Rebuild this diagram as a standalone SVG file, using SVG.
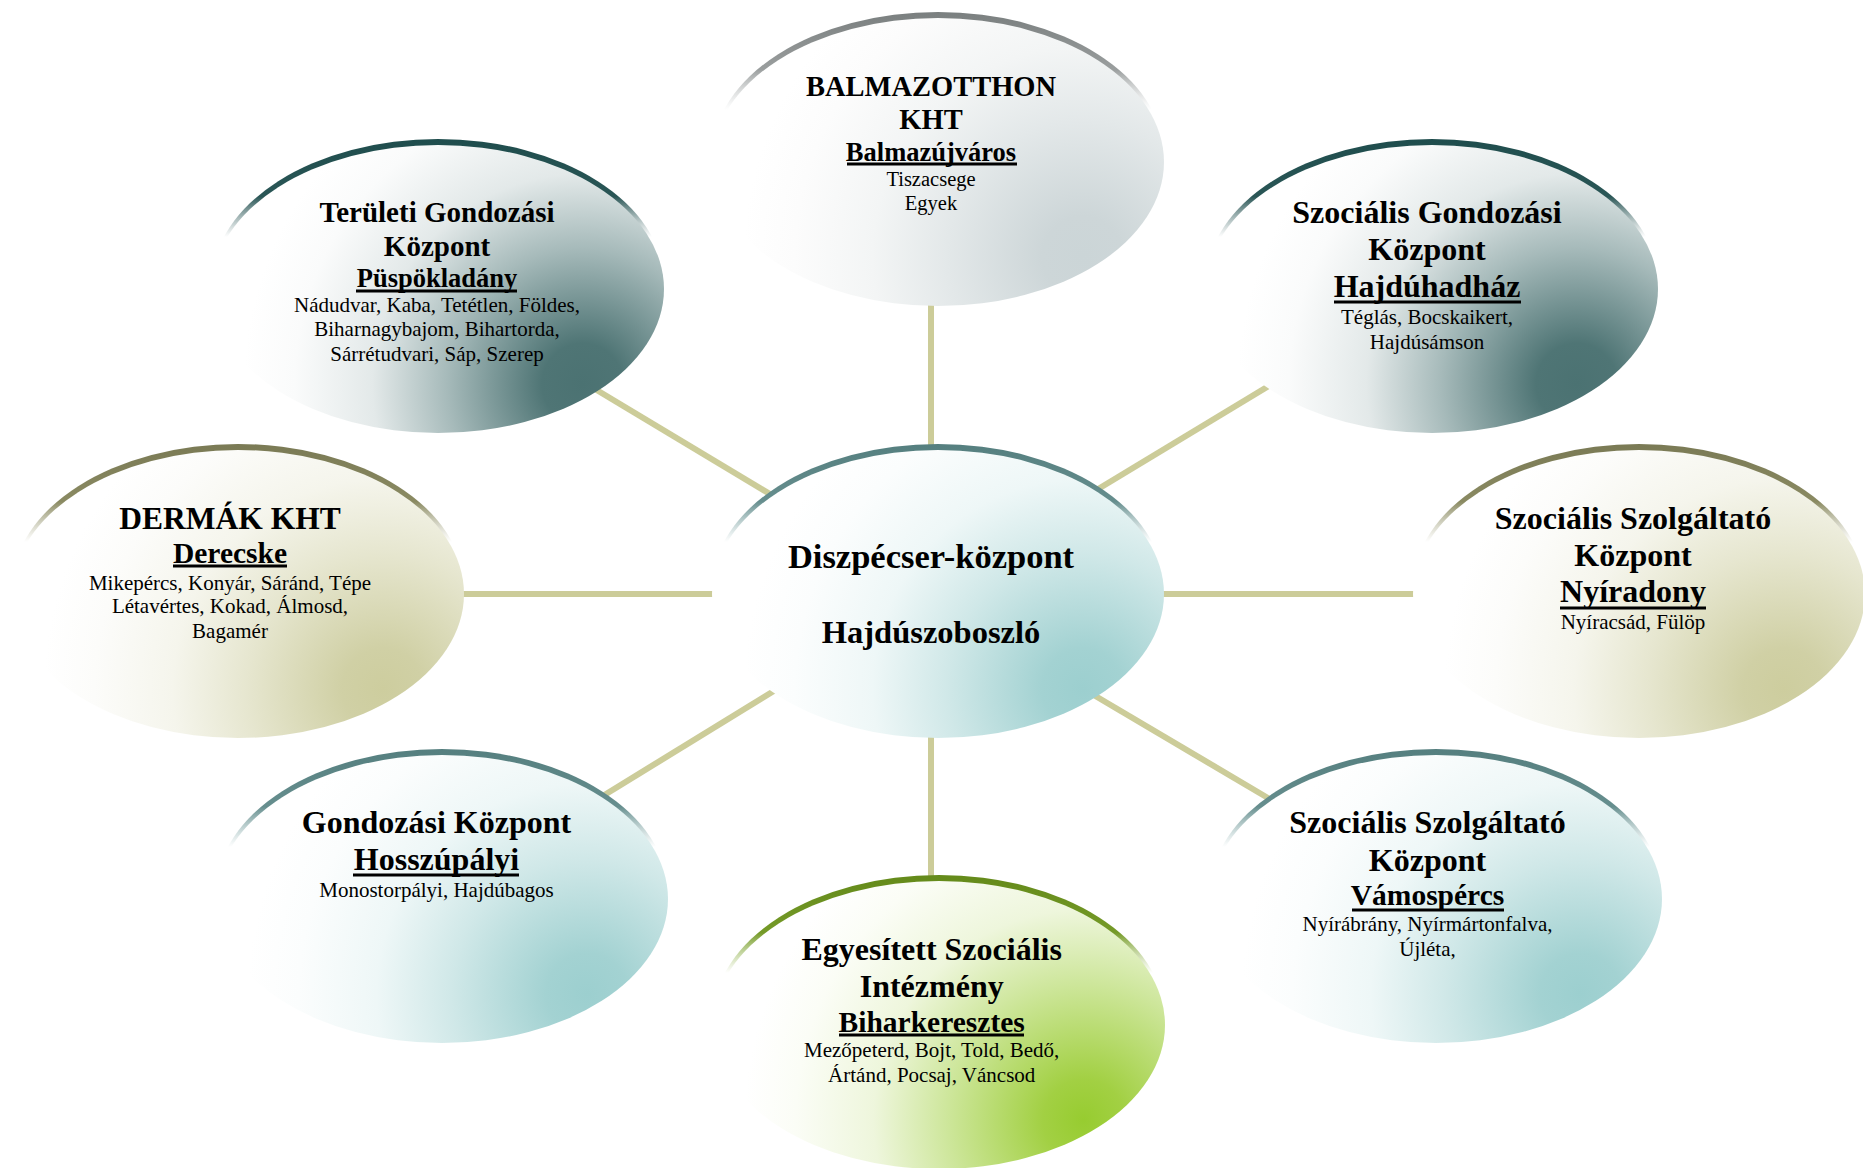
<svg xmlns="http://www.w3.org/2000/svg" width="1863" height="1168" viewBox="0 0 1863 1168">
<style>
text{font-family:"Liberation Serif","Times New Roman",serif;fill:#000;text-anchor:middle}
.b{font-weight:bold}
.r{font-size:21px}
.ul{stroke:#000;stroke-width:3}
.con{stroke:#cccc99;stroke-width:6;fill:none}
</style>
<defs>
<radialGradient id="gSlate" cx="0.82" cy="0.83" r="0.75" gradientTransform="translate(0.82 0.83) scale(1 1.57) translate(-0.82 -0.83)">
<stop offset="0" stop-color="#4b7272"/><stop offset="0.12" stop-color="#4f7575"/><stop offset="0.4" stop-color="#a6baba"/><stop offset="0.62" stop-color="#e3e9e9"/><stop offset="0.85" stop-color="#fafbfb"/><stop offset="1" stop-color="#ffffff"/>
</radialGradient>
<radialGradient id="gGray" cx="0.82" cy="0.83" r="0.75" gradientTransform="translate(0.82 0.83) scale(1 1.57) translate(-0.82 -0.83)">
<stop offset="0" stop-color="#cbd5d7"/><stop offset="0.12" stop-color="#cdd6d8"/><stop offset="0.4" stop-color="#e3e8e9"/><stop offset="0.62" stop-color="#f3f5f5"/><stop offset="0.85" stop-color="#fcfcfc"/><stop offset="1" stop-color="#ffffff"/>
</radialGradient>
<radialGradient id="gKhaki" cx="0.82" cy="0.83" r="0.75" gradientTransform="translate(0.82 0.83) scale(1 1.57) translate(-0.82 -0.83)">
<stop offset="0" stop-color="#cdcd9e"/><stop offset="0.12" stop-color="#d0d0a5"/><stop offset="0.4" stop-color="#e6e6cf"/><stop offset="0.62" stop-color="#f5f5ec"/><stop offset="0.85" stop-color="#fcfcfa"/><stop offset="1" stop-color="#ffffff"/>
</radialGradient>
<radialGradient id="gTeal" cx="0.82" cy="0.83" r="0.75" gradientTransform="translate(0.82 0.83) scale(1 1.57) translate(-0.82 -0.83)">
<stop offset="0" stop-color="#9ccfcf"/><stop offset="0.12" stop-color="#a3d2d2"/><stop offset="0.4" stop-color="#d0e8e8"/><stop offset="0.62" stop-color="#eef7f7"/><stop offset="0.85" stop-color="#fbfdfd"/><stop offset="1" stop-color="#ffffff"/>
</radialGradient>
<radialGradient id="gGreen" cx="0.82" cy="0.83" r="0.75" gradientTransform="translate(0.82 0.83) scale(1 1.57) translate(-0.82 -0.83)">
<stop offset="0" stop-color="#97cc30"/><stop offset="0.12" stop-color="#a2d043"/><stop offset="0.4" stop-color="#cde69a"/><stop offset="0.62" stop-color="#eef6dc"/><stop offset="0.85" stop-color="#fbfdf6"/><stop offset="1" stop-color="#ffffff"/>
</radialGradient>
<linearGradient id="cGray" x1="0" y1="0" x2="0" y2="1"><stop offset="0" stop-color="#7a7f7f"/><stop offset="0.2" stop-color="#9a9e9e"/><stop offset="0.34" stop-color="#c8cccc" stop-opacity="0"/></linearGradient>
<linearGradient id="cSlate" x1="0" y1="0" x2="0" y2="1"><stop offset="0" stop-color="#1f4d4d"/><stop offset="0.2" stop-color="#2a5656"/><stop offset="0.34" stop-color="#5f8080" stop-opacity="0"/></linearGradient>
<linearGradient id="cKhaki" x1="0" y1="0" x2="0" y2="1"><stop offset="0" stop-color="#7a7a55"/><stop offset="0.2" stop-color="#8a8a62"/><stop offset="0.34" stop-color="#b0b090" stop-opacity="0"/></linearGradient>
<linearGradient id="cTeal" x1="0" y1="0" x2="0" y2="1"><stop offset="0" stop-color="#557f7f"/><stop offset="0.2" stop-color="#668e8e"/><stop offset="0.34" stop-color="#90b4b4" stop-opacity="0"/></linearGradient>
<linearGradient id="cGreen" x1="0" y1="0" x2="0" y2="1"><stop offset="0" stop-color="#648a1a"/><stop offset="0.2" stop-color="#759a28"/><stop offset="0.34" stop-color="#a0c060" stop-opacity="0"/></linearGradient>
</defs>

<g id="connectors">
<line class="con" x1="931" y1="280" x2="931" y2="480"/>
<line class="con" x1="931" y1="700" x2="931" y2="900"/>
<line class="con" x1="420" y1="594" x2="740" y2="594"/>
<line class="con" x1="1140" y1="594" x2="1450" y2="594"/>
<line class="con" x1="560" y1="368" x2="800" y2="512"/>
<line class="con" x1="1070" y1="506" x2="1300" y2="367"/>
<line class="con" x1="790" y1="681" x2="580" y2="810"/>
<line class="con" x1="1070" y1="681" x2="1290" y2="811"/>
</g>

<g id="balmazotthon">
<ellipse cx="938" cy="156" rx="226" ry="144" fill="url(#cGray)"/>
<ellipse cx="938" cy="162" rx="226" ry="144" fill="url(#gGray)"/>
<text class="b" x="931" y="96" font-size="28.5">BALMAZOTTHON</text>
<text class="b" x="931" y="129" font-size="28.5">KHT</text>
<text class="b" x="931" y="161" font-size="26.5">Balmazújváros</text>
<line class="ul" x1="847" y1="164" x2="1017" y2="164"/>
<text x="931" y="186" font-size="20.5">Tiszacsege</text>
<text x="931" y="210" font-size="20.5">Egyek</text>
</g>

<g id="teruleti">
<ellipse cx="438" cy="283" rx="226" ry="144" fill="url(#cSlate)"/>
<ellipse cx="438" cy="289" rx="226" ry="144" fill="url(#gSlate)"/>
<text class="b" x="437" y="222" font-size="29">Területi Gondozási</text>
<text class="b" x="437" y="256" font-size="29">Központ</text>
<text class="b" x="437" y="287" font-size="26.5">Püspökladány</text>
<line class="ul" x1="356" y1="291" x2="517" y2="291"/>
<text class="r" x="437" y="312">Nádudvar, Kaba, Tetétlen, Földes,</text>
<text class="r" x="437" y="336">Biharnagybajom, Bihartorda,</text>
<text class="r" x="437" y="361">Sárrétudvari, Sáp, Szerep</text>
</g>

<g id="hajduhadhaz">
<ellipse cx="1432" cy="283" rx="226" ry="144" fill="url(#cSlate)"/>
<ellipse cx="1432" cy="289" rx="226" ry="144" fill="url(#gSlate)"/>
<text class="b" x="1427" y="223" font-size="32">Szociális Gondozási</text>
<text class="b" x="1427" y="260" font-size="32">Központ</text>
<text class="b" x="1427" y="297" font-size="32">Hajdúhadház</text>
<line class="ul" x1="1334" y1="302" x2="1521" y2="302"/>
<text class="r" x="1427" y="324">Téglás, Bocskaikert,</text>
<text class="r" x="1427" y="349">Hajdúsámson</text>
</g>

<g id="dermak">
<ellipse cx="238" cy="588" rx="226" ry="144" fill="url(#cKhaki)"/>
<ellipse cx="238" cy="594" rx="226" ry="144" fill="url(#gKhaki)"/>
<text class="b" x="230" y="529" font-size="31.5">DERMÁK KHT</text>
<text class="b" x="230" y="563" font-size="29.5">Derecske</text>
<line class="ul" x1="173" y1="566" x2="287" y2="566"/>
<text class="r" x="230" y="590">Mikepércs, Konyár, Sáránd, Tépe</text>
<text class="r" x="230" y="613">Létavértes, Kokad, Álmosd,</text>
<text class="r" x="230" y="638">Bagamér</text>
</g>

<g id="nyiradony">
<ellipse cx="1639" cy="588" rx="226" ry="144" fill="url(#cKhaki)"/>
<ellipse cx="1639" cy="594" rx="226" ry="144" fill="url(#gKhaki)"/>
<text class="b" x="1633" y="529" font-size="32">Szociális Szolgáltató</text>
<text class="b" x="1633" y="566" font-size="32">Központ</text>
<text class="b" x="1633" y="602" font-size="32">Nyíradony</text>
<line class="ul" x1="1560" y1="608" x2="1706" y2="608"/>
<text class="r" x="1633" y="629">Nyíracsád, Fülöp</text>
</g>

<g id="diszpecser">
<ellipse cx="938" cy="588" rx="226" ry="144" fill="url(#cTeal)"/>
<ellipse cx="938" cy="594" rx="226" ry="144" fill="url(#gTeal)"/>
<text class="b" x="931" y="568" font-size="34.5">Diszpécser-központ</text>
<text class="b" x="931" y="643" font-size="32.5">Hajdúszoboszló</text>
</g>

<g id="hosszupalyi">
<ellipse cx="442" cy="893" rx="226" ry="144" fill="url(#cTeal)"/>
<ellipse cx="442" cy="899" rx="226" ry="144" fill="url(#gTeal)"/>
<text class="b" x="436.5" y="833" font-size="32">Gondozási Központ</text>
<text class="b" x="436.5" y="870" font-size="32">Hosszúpályi</text>
<line class="ul" x1="353" y1="875" x2="519" y2="875"/>
<text class="r" x="436.5" y="897">Monostorpályi, Hajdúbagos</text>
</g>

<g id="vamospercs">
<ellipse cx="1436" cy="893" rx="226" ry="144" fill="url(#cTeal)"/>
<ellipse cx="1436" cy="899" rx="226" ry="144" fill="url(#gTeal)"/>
<text class="b" x="1427.5" y="833" font-size="32">Szociális Szolgáltató</text>
<text class="b" x="1427.5" y="871" font-size="32">Központ</text>
<text class="b" x="1427.5" y="905" font-size="29.5">Vámospércs</text>
<line class="ul" x1="1352" y1="910" x2="1504" y2="910"/>
<text class="r" x="1427.5" y="931">Nyírábrány, Nyírmártonfalva,</text>
<text class="r" x="1427.5" y="956">Újléta,</text>
</g>

<g id="biharkeresztes">
<ellipse cx="939" cy="1019" rx="226" ry="144" fill="url(#cGreen)"/>
<ellipse cx="939" cy="1025" rx="226" ry="144" fill="url(#gGreen)"/>
<text class="b" x="931.7" y="960" font-size="32">Egyesített Szociális</text>
<text class="b" x="931.7" y="997" font-size="32">Intézmény</text>
<text class="b" x="931.7" y="1032" font-size="29.5">Biharkeresztes</text>
<line class="ul" x1="839" y1="1035" x2="1024" y2="1035"/>
<text class="r" x="931.7" y="1057">Mezőpeterd, Bojt, Told, Bedő,</text>
<text class="r" x="931.7" y="1082">Ártánd, Pocsaj, Váncsod</text>
</g>
</svg>
